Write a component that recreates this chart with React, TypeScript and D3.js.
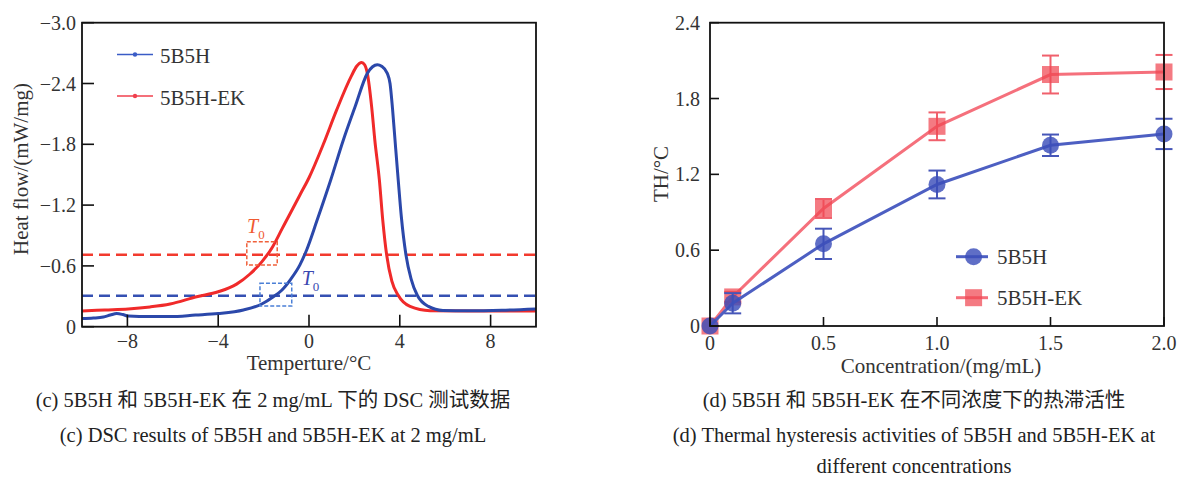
import React from 'react';
import * as d3 from 'd3';

const FONT = "'Liberation Serif','Times New Roman','Noto Sans CJK SC',serif";

// ---------- (c) DSC data ----------
const dscXTicks = [-8, -4, 0, 4, 8];
const dscYTicks = [0, -0.6, -1.2, -1.8, -2.4, -3.0];
const dscYLabels = ['0', '\u22120.6', '\u22121.2', '\u22121.8', '\u22122.4', '\u22123.0'];

// [temperature °C, heat flow mW/mg]
const dsc5B5H: [number, number][] = [
  [-10, -0.08], [-9.5, -0.085], [-9.06, -0.095], [-8.75, -0.115], [-8.47, -0.13], [-8.2, -0.12],
  [-7.96, -0.105], [-7, -0.1], [-6.12, -0.1], [-5, -0.115], [-4, -0.13], [-2.89, -0.165],
  [-2.08, -0.224], [-1.57, -0.296], [-1.2, -0.36], [-0.8, -0.47], [-0.4, -0.61], [-0.1, -0.76],
  [0.34, -1.04], [0.96, -1.45], [1.51, -1.84], [2.03, -2.17], [2.57, -2.5], [2.8, -2.565],
  [3.01, -2.585], [3.2, -2.57], [3.45, -2.5], [3.57, -2.4], [3.68, -2.15], [3.79, -1.84],
  [3.93, -1.45], [4.07, -1.08], [4.27, -0.71], [4.5, -0.47], [4.77, -0.31], [5.26, -0.2],
  [5.9, -0.16], [7, -0.157], [8.5, -0.162], [10, -0.175],
];
const dsc5B5HEK: [number, number][] = [
  [-10, -0.155], [-9, -0.165], [-7.96, -0.175], [-7, -0.195], [-6.12, -0.224], [-4.95, -0.296],
  [-4, -0.345], [-3.19, -0.42], [-2.6, -0.52], [-2.08, -0.64], [-1.6, -0.79], [-1.2, -0.96],
  [-0.8, -1.13], [-0.4, -1.3], [0, -1.47], [0.63, -1.8], [1.22, -2.14], [1.88, -2.48],
  [2.1, -2.57], [2.32, -2.608], [2.45, -2.585], [2.57, -2.5], [2.76, -2.17], [2.9, -1.84],
  [3.1, -1.448], [3.25, -1.05], [3.42, -0.71], [3.65, -0.45], [3.93, -0.31], [4.45, -0.2],
  [5.33, -0.158], [7, -0.155], [10, -0.155],
];
const onsetLevels = { ek: -0.71, b: -0.305 };
// onset annotation boxes [T0, T1, v0, v1]
const boxEK = [-2.74, -1.4, -0.609, -0.839];
const boxB = [-2.16, -0.76, -0.204, -0.428];

// ---------- (d) thermal hysteresis data ----------
const conc = [0, 0.1, 0.5, 1.0, 1.5, 2.0];
const th5B5H = [0, 0.18, 0.65, 1.12, 1.43, 1.52];
const err5B5H = [0, 0.08, 0.12, 0.11, 0.085, 0.12];
const th5B5HEK = [0, 0.23, 0.93, 1.58, 1.99, 2.01];
const err5B5HEK = [0, 0.04, 0.075, 0.11, 0.15, 0.135];
const thXTicks = [0, 0.5, 1.0, 1.5, 2.0];
const thXLabels = ['0', '0.5', '1.0', '1.5', '2.0'];
const thYTicks = [0, 0.6, 1.2, 1.8, 2.4];
const thYLabels = ['0', '0.6', '1.2', '1.8', '2.4'];

const RED = '#f02a2a';
const BLUE = '#2b48aa';

function DSCPanel() {
  const x = d3.scaleLinear().domain([-10, 10]).range([82, 536]);
  const y = d3.scaleLinear().domain([0, -3]).range([326.7, 22.7]);
  const line = d3.line<[number, number]>().x(d => x(d[0])).y(d => y(d[1])).curve(d3.curveMonotoneX);
  const [x0, x1] = x.range();
  const [yb, yt] = y.range();
  return (
    <g fontFamily={FONT}>
      <defs>
        <clipPath id="dscclip"><rect x={x0} y={yt} width={x1 - x0} height={yb - yt} /></clipPath>
      </defs>
      <g clipPath="url(#dscclip)">
        <line x1={x0} x2={x1} y1={y(onsetLevels.ek)} y2={y(onsetLevels.ek)} stroke="#f23a2e" strokeWidth={2.6} strokeDasharray="11,6" />
        <line x1={x0} x2={x1} y1={y(onsetLevels.b)} y2={y(onsetLevels.b)} stroke="#3550b2" strokeWidth={2.6} strokeDasharray="11,6" />
        <path d={line(dsc5B5HEK) || ''} fill="none" stroke={RED} strokeWidth={3} />
        <path d={line(dsc5B5H) || ''} fill="none" stroke={BLUE} strokeWidth={3} />
      </g>
      <rect x={x(boxEK[0])} y={y(boxEK[3])} width={x(boxEK[1]) - x(boxEK[0])} height={y(boxEK[2]) - y(boxEK[3])}
        fill="none" stroke="#f0603a" strokeWidth={1.5} strokeDasharray="4,2" />
      <rect x={x(boxB[0])} y={y(boxB[3])} width={x(boxB[1]) - x(boxB[0])} height={y(boxB[2]) - y(boxB[3])}
        fill="none" stroke="#4a7fd6" strokeWidth={1.5} strokeDasharray="4,2" />
      <text x={x(-2.73)} y={y(-0.925)} fontSize={20} fontStyle="italic" fill="#f05a32">T<tspan fontSize={13} fontStyle="normal" dy={6}>0</tspan></text>
      <text x={x(-0.32)} y={y(-0.41)} fontSize={20} fontStyle="italic" fill="#3a48b0">T<tspan fontSize={13} fontStyle="normal" dy={6}>0</tspan></text>
      {/* frame */}
      <rect x={x0} y={yt} width={x1 - x0} height={yb - yt} fill="none" stroke="#111" strokeWidth={1.8} />
      {dscXTicks.map(t => (
        <g key={t}>
          <line x1={x(t)} x2={x(t)} y1={yb} y2={yb - 12} stroke="#111" strokeWidth={1.6} />
          <text x={x(t)} y={348} fontSize={20} textAnchor="middle" fill="#333">{t < 0 ? '\u2212' + Math.abs(t) : String(t)}</text>
        </g>
      ))}
      {dscYTicks.map((t, i) => (
        <g key={t}>
          <line x1={x0} x2={x0 + 12} y1={y(t)} y2={y(t)} stroke="#111" strokeWidth={1.6} />
          <text x={76} y={y(t) + 7} fontSize={20} textAnchor="end" fill="#333">{dscYLabels[i]}</text>
        </g>
      ))}
      <text x={309} y={370} fontSize={21} textAnchor="middle" fill="#333">Temperture/°C</text>
      <text transform="translate(28,169) rotate(-90)" fontSize={21} textAnchor="middle" fill="#333">Heat flow/(mW/mg)</text>
      {/* legend */}
      <line x1={117} x2={153} y1={54.5} y2={54.5} stroke="#3a5cc6" strokeWidth={1.6} />
      <circle cx={135} cy={54.5} r={2.2} fill="#3a5cc6" />
      <text x={160} y={63} fontSize={21} fill="#333">5B5H</text>
      <line x1={117} x2={153} y1={96} y2={96} stroke="#f0404e" strokeWidth={1.6} />
      <circle cx={135} cy={96} r={2.2} fill="#f0404e" />
      <text x={160} y={104.5} fontSize={21} fill="#333">5B5H-EK</text>
    </g>
  );
}

function THPanel() {
  const x = d3.scaleLinear().domain([0, 2]).range([710, 1164]);
  const y = d3.scaleLinear().domain([0, 2.4]).range([326, 22.7]);
  const [x0, x1] = x.range();
  const [yb, yt] = y.range();
  const lineGen = d3.line<number>().x((_, i) => x(conc[i])).y(d => y(d));
  const redLine = '#f5707c';
  const redMark = 'rgba(240,70,82,0.72)';
  const blueLine = '#4d5fc2';
  const blueMark = 'rgba(60,78,185,0.82)';
  const cap = 8.5;
  const errBars = (vals: number[], errs: number[], color: string, key: string) =>
    vals.map((v, i) => errs[i] > 0 ? (
      <g key={key + i} stroke={color} strokeWidth={2}>
        <line x1={x(conc[i])} x2={x(conc[i])} y1={y(v - errs[i])} y2={y(v + errs[i])} />
        <line x1={x(conc[i]) - cap} x2={x(conc[i]) + cap} y1={y(v + errs[i])} y2={y(v + errs[i])} />
        <line x1={x(conc[i]) - cap} x2={x(conc[i]) + cap} y1={y(v - errs[i])} y2={y(v - errs[i])} />
      </g>
    ) : null);
  return (
    <g fontFamily={FONT}>
      <path d={lineGen(th5B5HEK) || ''} fill="none" stroke={redLine} strokeWidth={3} />
      {errBars(th5B5HEK, err5B5HEK, '#f0606c', 'r')}
      {th5B5HEK.map((v, i) => (
        <rect key={'rs' + i} x={x(conc[i]) - 8.5} y={y(v) - 8.5} width={17} height={17} fill={redMark} />
      ))}
      <path d={lineGen(th5B5H) || ''} fill="none" stroke={blueLine} strokeWidth={3} />
      {errBars(th5B5H, err5B5H, '#4656b8', 'b')}
      {th5B5H.map((v, i) => (
        <circle key={'bc' + i} cx={x(conc[i])} cy={y(v)} r={8.5} fill={blueMark} />
      ))}
      <rect x={x0} y={yt} width={x1 - x0} height={yb - yt} fill="none" stroke="#111" strokeWidth={1.8} />
      {thXTicks.map((t, i) => (
        <g key={t}>
          <line x1={x(t)} x2={x(t)} y1={yb} y2={yb - 9} stroke="#111" strokeWidth={1.6} />
          <text x={x(t)} y={350} fontSize={20} textAnchor="middle" fill="#333">{thXLabels[i]}</text>
        </g>
      ))}
      {thYTicks.map((t, i) => (
        <g key={t}>
          <line x1={x0} x2={x0 + 9} y1={y(t)} y2={y(t)} stroke="#111" strokeWidth={1.6} />
          <text x={700} y={y(t) + 7} fontSize={20} textAnchor="end" fill="#333">{thYLabels[i]}</text>
        </g>
      ))}
      <text x={941} y={373} fontSize={21} textAnchor="middle" fill="#333">Concentration/(mg/mL)</text>
      <text transform="translate(668,174) rotate(-90)" fontSize={21} textAnchor="middle" fill="#333">TH/°C</text>
      {/* legend */}
      <line x1={956} x2={988} y1={256.7} y2={256.7} stroke={blueLine} strokeWidth={3} />
      <circle cx={973.6} cy={256.7} r={8.5} fill={blueMark} />
      <text x={997} y={264} fontSize={21} fill="#333">5B5H</text>
      <line x1={956} x2={988} y1={297.7} y2={297.7} stroke={redLine} strokeWidth={3} />
      <rect x={973.6 - 8.5} y={297.7 - 8.5} width={17} height={17} fill={redMark} />
      <text x={997} y={305} fontSize={21} fill="#333">5B5H-EK</text>
    </g>
  );
}

export default function App() {
  return (
    <svg width={1181} height={479} style={{ position: 'absolute', left: 0, top: 0, background: '#fff' }}>
      <rect width={1181} height={479} fill="#fff" />
      <DSCPanel />
      <THPanel />
      <g fontFamily={FONT} fontSize={20.5} fill="#222" textAnchor="middle">
        <text x={273} y={407}>(c) 5B5H 和 5B5H-EK 在 2 mg/mL 下的 DSC 测试数据</text>
        <text x={273} y={442}>(c) DSC results of 5B5H and 5B5H-EK at 2 mg/mL</text>
        <text x={914} y={407}>(d) 5B5H 和 5B5H-EK 在不同浓度下的热滞活性</text>
        <text x={914} y={442}>(d) Thermal hysteresis activities of 5B5H and 5B5H-EK at</text>
        <text x={914} y={473}>different concentrations</text>
      </g>
    </svg>
  );
}
